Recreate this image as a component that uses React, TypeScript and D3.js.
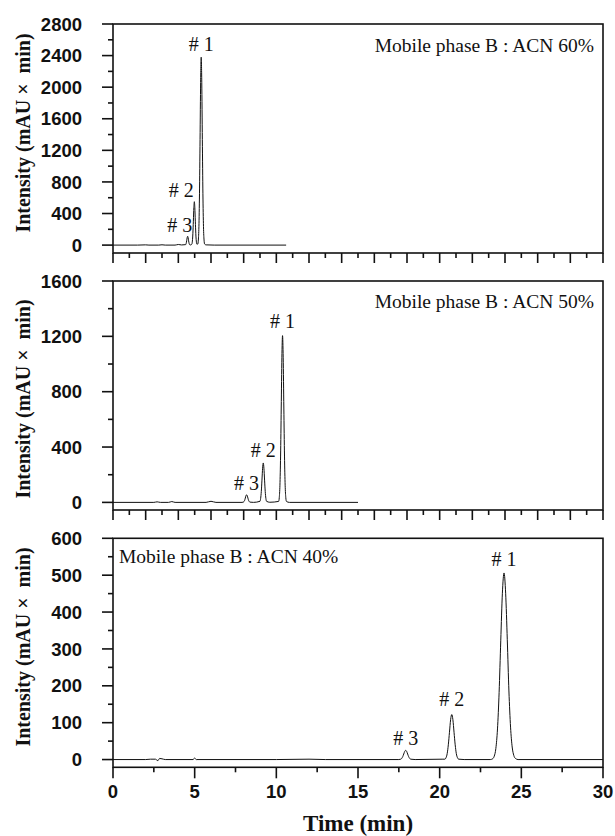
import React from "react";
import * as d3 from "d3";

// ---------- DATA ----------
// chromatogram traces: [time (min), intensity (mAU x min)]
const trace60: [number, number][] = [
  [0, 0], [1.5, 0], [2.0, 3], [2.2, 0], [2.8, 0], [3.0, 4], [3.2, 0], [3.8, 0], [4.0, 8], [4.2, 2],
  [4.45, 6], [4.48, 22], [4.51, 54], [4.54, 94], [4.57, 112], [4.6, 94], [4.63, 54], [4.66, 22], [4.69, 6],
  [4.75, 2], [4.83, 13], [4.86, 51], [4.89, 144], [4.92, 303], [4.95, 474], [4.98, 550], [5.01, 474],
  [5.04, 303], [5.07, 144], [5.1, 51], [5.13, 13], [5.19, 13], [5.225, 64], [5.26, 234], [5.295, 650],
  [5.33, 1335], [5.365, 2060], [5.4, 2380], [5.435, 2060], [5.47, 1335], [5.505, 650], [5.54, 234],
  [5.575, 64], [5.61, 13], [5.7, 3], [6.2, 0], [10.6, 0],
];
const trace50: [number, number][] = [
  [0, 0], [2.5, 0], [2.7, 4], [2.9, 0], [3.4, 0], [3.6, 6], [3.8, 0], [5.7, 0], [6.0, 8], [6.3, 0],
  [7.9, 0], [7.98, 2], [8.02, 6], [8.06, 15], [8.1, 31], [8.14, 48], [8.18, 55], [8.22, 48], [8.26, 31],
  [8.3, 15], [8.34, 6], [8.38, 2], [8.6, 0], [9.0, 8], [9.04, 29], [9.08, 79], [9.12, 161], [9.16, 247],
  [9.2, 285], [9.24, 247], [9.28, 161], [9.32, 79], [9.36, 29], [9.4, 8], [9.6, 1], [10.14, 7],
  [10.18, 34], [10.22, 124], [10.26, 335], [10.3, 682], [10.34, 1045], [10.38, 1205], [10.42, 1045],
  [10.46, 682], [10.5, 335], [10.54, 124], [10.58, 34], [10.62, 7], [10.8, 0], [15, 0],
];
const trace40: [number, number][] = [
  [0, 0], [2.0, 0], [2.3, 1], [2.6, 1], [2.75, -3], [2.85, 3], [3.0, 2], [3.2, 0], [4.9, 0], [5.0, 4],
  [5.1, 0], [10, 0], [12, 1], [13, 0], [17.5, 0], [17.62, 1], [17.68, 3.4], [17.74, 8], [17.8, 15],
  [17.86, 22], [17.92, 25], [17.98, 22], [18.04, 15], [18.1, 8], [18.16, 3.4], [18.22, 1], [18.5, 0],
  [20.2, 1], [20.32, 1], [20.39, 5], [20.46, 16], [20.53, 40], [20.6, 74], [20.67, 108], [20.74, 122],
  [20.81, 108], [20.88, 74], [20.95, 40], [21.02, 16], [21.09, 5], [21.16, 1], [21.5, 0], [23.1, 0],
  [23.24, 2], [23.34, 9], [23.44, 30], [23.54, 83], [23.64, 182], [23.74, 322], [23.84, 451],
  [23.94, 506], [24.04, 451], [24.14, 325], [24.24, 186], [24.34, 88], [24.44, 34], [24.54, 11],
  [24.64, 3], [24.8, 0], [30, 0],
];

const panelTitles = ["Mobile phase B : ACN 60%", "Mobile phase B : ACN 50%", "Mobile phase B : ACN 40%"];
const yDomains: [number, number][] = [[-100, 2800], [-55, 1600], [-21, 600]];
const yTickLabels60 = [0, 400, 800, 1200, 1600, 2000, 2400, 2800];
const yTickLabels50 = [0, 400, 800, 1200, 1600];
const yTickLabels40 = [0, 100, 200, 300, 400, 500, 600];
const yMinor60 = [200, 600, 1000, 1400, 1800, 2200, 2600];
const yMinor50 = [200, 600, 1000, 1400];
const yMinor40 = [50, 150, 250, 350, 450, 550];
const xTickLabels = [0, 5, 10, 15, 20, 25, 30];
const xMinorBottom = [2.5, 7.5, 12.5, 17.5, 22.5, 27.5];
const xMajorTop = [0, 2, 4, 6, 8, 10, 12, 14, 16, 18, 20, 22, 24, 26, 28, 30];
const xMinorTop = [1, 3, 5, 7, 9, 11, 13, 15, 17, 19, 21, 23, 25, 27, 29];

// peak labels: [label, time, intensity]
const peakLabels60: [string, number, number][] = [["# 1", 5.4, 2380], ["# 2", 4.98, 550], ["# 3", 4.57, 112]];
const peakLabels50: [string, number, number][] = [["# 1", 10.38, 1205], ["# 2", 9.2, 285], ["# 3", 8.18, 55]];
const peakLabels40: [string, number, number][] = [["# 1", 23.94, 506], ["# 2", 20.74, 122], ["# 3", 17.92, 25]];

// ---------- LAYOUT ----------
const W = 615;
const H = 836;
const left = 113;
const right = 603;
const panelTops = [24, 281, 538.3];
const panelH = 229;
const serif = "'Liberation Serif', 'Times New Roman', serif";
const sans = "'Liberation Sans', Arial, sans-serif";

const x = d3.scaleLinear().domain([0, 30]).range([left, right]);

type PanelProps = {
  idx: number;
  data: [number, number][];
  yLabels: number[];
  yMinor: number[];
  peaks: [string, number, number][];
  bottom: boolean;
};

function Panel({ idx, data, yLabels, yMinor, peaks, bottom }: PanelProps) {
  const top = panelTops[idx];
  const bot = top + panelH;
  const y = d3.scaleLinear().domain(yDomains[idx]).range([bot, top]);
  const line = d3
    .line<[number, number]>()
    .x((d) => x(d[0]))
    .y((d) => y(d[1]))
    .curve(d3.curveMonotoneX);
  const xMaj = bottom ? xTickLabels : xMajorTop;
  const xMin = bottom ? xMinorBottom : xMinorTop;
  const titleRight = idx < 2;
  const labelCenters = [133, 399, 647];
  const titleDy = [28, 27, 25];
  // label offsets (dx, dy px from peak top) per panel
  const peakOff: [number, number][][] = [
    [[0, -6], [-13, -5], [-8, -4]],
    [[0, -8], [0, -6], [0, -5]],
    [[0, -7], [0, -9], [0, -5]],
  ];
  return (
    <g>
      <path d={line(data) || ""} fill="none" stroke="#111" strokeWidth={1} />
      <rect x={left} y={top} width={right - left} height={panelH} fill="none" stroke="#111" strokeWidth={1.6} />
      {yLabels.map((v) => (
        <g key={"yl" + v}>
          <line x1={left - 11} x2={left} y1={y(v)} y2={y(v)} stroke="#111" strokeWidth={1.6} />
          <text
            x={left - 31}
            y={y(v)}
            dy="0.36em"
            textAnchor="end"
            fontFamily={sans}
            fontWeight="bold"
            fontSize={18.5}
            fill="#111"
          >
            {v}
          </text>
        </g>
      ))}
      {yMinor.map((v) => (
        <line key={"ym" + v} x1={left - 5} x2={left} y1={y(v)} y2={y(v)} stroke="#111" strokeWidth={1.6} />
      ))}
      {xMaj.map((v) => (
        <line key={"xM" + v} x1={x(v)} x2={x(v)} y1={bot} y2={bot + (bottom ? 11 : 10)} stroke="#111" strokeWidth={1.6} />
      ))}
      {xMin.map((v) => (
        <line key={"xm" + v} x1={x(v)} x2={x(v)} y1={bot} y2={bot + 5} stroke="#111" strokeWidth={1.6} />
      ))}
      {bottom &&
        xTickLabels.map((v) => (
          <text
            key={"xt" + v}
            x={x(v)}
            y={bot + 31}
            textAnchor="middle"
            fontFamily={sans}
            fontWeight="bold"
            fontSize={18.5}
            fill="#111"
          >
            {v}
          </text>
        ))}
      <text
        transform={`translate(30,${labelCenters[idx]}) rotate(-90)`}
        textAnchor="middle"
        fontFamily={serif}
        fontWeight="bold"
        fontSize={20}
        fill="#111"
        style={{ whiteSpace: "pre" }}
      >
        {"Intensity (mAU ×  min)"}
      </text>
      <text
        x={titleRight ? right - 9 : left + 6}
        y={top + titleDy[idx]}
        textAnchor={titleRight ? "end" : "start"}
        fontFamily={serif}
        fontSize={19.5}
        fill="#111"
      >
        {panelTitles[idx]}
      </text>
      {peaks.map(([t, px, py], i) => (
        <text
          key={t}
          x={x(px) + peakOff[idx][i][0]}
          y={y(py) + peakOff[idx][i][1]}
          textAnchor="middle"
          fontFamily={serif}
          fontSize={20}
          fill="#111"
        >
          {t}
        </text>
      ))}
    </g>
  );
}

export default function App() {
  return (
    <svg width={W} height={H} style={{ position: "absolute", left: 0, top: 0, background: "#fff" }}>
      <rect width={W} height={H} fill="#fff" />
      <Panel idx={0} data={trace60} yLabels={yTickLabels60} yMinor={yMinor60} peaks={peakLabels60} bottom={false} />
      <Panel idx={1} data={trace50} yLabels={yTickLabels50} yMinor={yMinor50} peaks={peakLabels50} bottom={false} />
      <Panel idx={2} data={trace40} yLabels={yTickLabels40} yMinor={yMinor40} peaks={peakLabels40} bottom={true} />
      <text
        x={(left + right) / 2}
        y={831}
        textAnchor="middle"
        fontFamily={serif}
        fontWeight="bold"
        fontSize={23}
        fill="#111"
      >
        Time (min)
      </text>
    </svg>
  );
}
